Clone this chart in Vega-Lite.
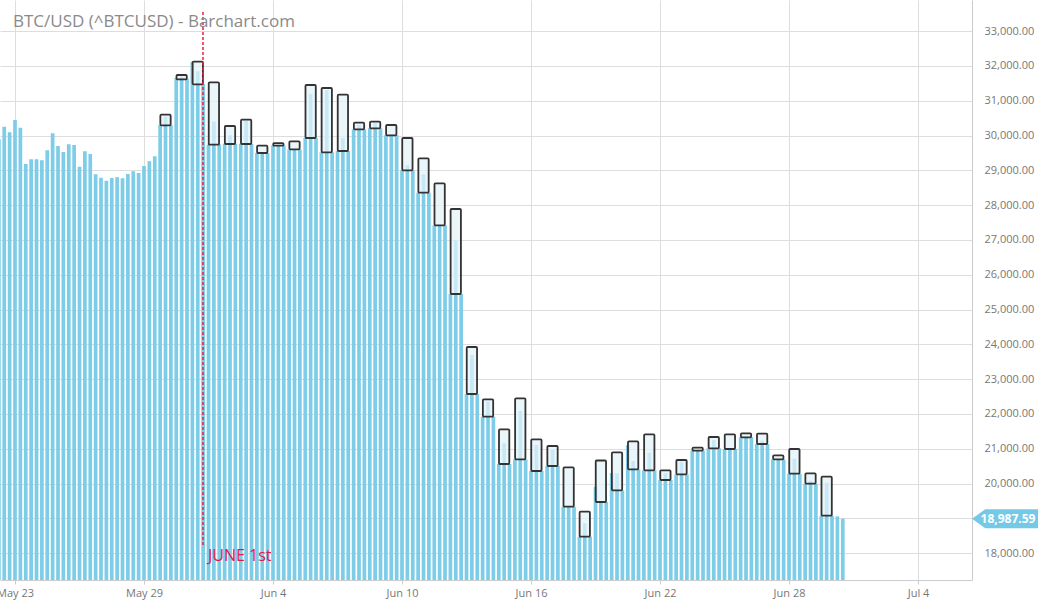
{
  "$schema": "https://vega.github.io/schema/vega-lite/v6.json",
  "width": 972,
  "height": 580,
  "autosize": {"type": "none"},
  "padding": {"left": 0, "top": 0, "right": 66, "bottom": 23},
  "background": "white",
  "config": {"view": {"stroke": null}, "font": "Open Sans"},
  "title": {
    "text": "BTC/USD (^BTCUSD) - Barchart.com",
    "anchor": "start",
    "frame": "group",
    "orient": "top",
    "offset": 0,
    "baseline": "alphabetic",
    "dx": 13,
    "dy": 44,
    "fontSize": 17,
    "fontWeight": "normal",
    "color": "#8a8a8a",
    "font": "Open Sans"
  },
  "datasets": {
    "bars": [
      {"t": "2022-05-22T06:00", "v": 29890}, {"t": "2022-05-22T12:00", "v": 30253}, {"t": "2022-05-22T18:00", "v": 30092},
      {"t": "2022-05-23T00:00", "v": 30445}, {"t": "2022-05-23T06:00", "v": 30225}, {"t": "2022-05-23T12:00", "v": 29181}, {"t": "2022-05-23T18:00", "v": 29316},
      {"t": "2022-05-24T00:00", "v": 29316}, {"t": "2022-05-24T06:00", "v": 29287}, {"t": "2022-05-24T12:00", "v": 29574}, {"t": "2022-05-24T18:00", "v": 30063},
      {"t": "2022-05-25T00:00", "v": 29698}, {"t": "2022-05-25T06:00", "v": 29526}, {"t": "2022-05-25T12:00", "v": 29747}, {"t": "2022-05-25T18:00", "v": 29727},
      {"t": "2022-05-26T00:00", "v": 29104}, {"t": "2022-05-26T06:00", "v": 29545}, {"t": "2022-05-26T12:00", "v": 29468}, {"t": "2022-05-26T18:00", "v": 28885},
      {"t": "2022-05-27T00:00", "v": 28787}, {"t": "2022-05-27T06:00", "v": 28701}, {"t": "2022-05-27T12:00", "v": 28779}, {"t": "2022-05-27T18:00", "v": 28799},
      {"t": "2022-05-28T00:00", "v": 28770}, {"t": "2022-05-28T06:00", "v": 28894}, {"t": "2022-05-28T12:00", "v": 28971}, {"t": "2022-05-28T18:00", "v": 28922},
      {"t": "2022-05-29T00:00", "v": 29124}, {"t": "2022-05-29T06:00", "v": 29259}, {"t": "2022-05-29T12:00", "v": 29402}, {"t": "2022-05-29T18:00", "v": 30300},
      {"t": "2022-05-30T00:00", "v": 30540}, {"t": "2022-05-30T06:00", "v": 30300}, {"t": "2022-05-30T12:00", "v": 31650}, {"t": "2022-05-30T18:00", "v": 31680},
      {"t": "2022-05-31T00:00", "v": 31630}, {"t": "2022-05-31T06:00", "v": 32120}, {"t": "2022-05-31T12:00", "v": 31850}, {"t": "2022-05-31T18:00", "v": 31480},
      {"t": "2022-06-01T00:00", "v": 29740}, {"t": "2022-06-01T06:00", "v": 30400}, {"t": "2022-06-01T12:00", "v": 29740}, {"t": "2022-06-01T18:00", "v": 29760},
      {"t": "2022-06-02T00:00", "v": 30010}, {"t": "2022-06-02T06:00", "v": 29760}, {"t": "2022-06-02T12:00", "v": 29760}, {"t": "2022-06-02T18:00", "v": 30420},
      {"t": "2022-06-03T00:00", "v": 29760}, {"t": "2022-06-03T06:00", "v": 29500}, {"t": "2022-06-03T12:00", "v": 29500}, {"t": "2022-06-03T18:00", "v": 29500},
      {"t": "2022-06-04T00:00", "v": 29710}, {"t": "2022-06-04T06:00", "v": 29710}, {"t": "2022-06-04T12:00", "v": 29710}, {"t": "2022-06-04T18:00", "v": 29600},
      {"t": "2022-06-05T00:00", "v": 29600}, {"t": "2022-06-05T06:00", "v": 29600}, {"t": "2022-06-05T12:00", "v": 29930}, {"t": "2022-06-05T18:00", "v": 31190},
      {"t": "2022-06-06T00:00", "v": 29930}, {"t": "2022-06-06T06:00", "v": 29520}, {"t": "2022-06-06T12:00", "v": 31300}, {"t": "2022-06-06T18:00", "v": 29520},
      {"t": "2022-06-07T00:00", "v": 29555}, {"t": "2022-06-07T06:00", "v": 29930}, {"t": "2022-06-07T12:00", "v": 29555}, {"t": "2022-06-07T18:00", "v": 30180},
      {"t": "2022-06-08T00:00", "v": 30300}, {"t": "2022-06-08T06:00", "v": 30180}, {"t": "2022-06-08T12:00", "v": 30210}, {"t": "2022-06-08T18:00", "v": 30350},
      {"t": "2022-06-09T00:00", "v": 30210}, {"t": "2022-06-09T06:00", "v": 30006}, {"t": "2022-06-09T12:00", "v": 30006}, {"t": "2022-06-09T18:00", "v": 30006},
      {"t": "2022-06-10T00:00", "v": 29000}, {"t": "2022-06-10T06:00", "v": 29150}, {"t": "2022-06-10T12:00", "v": 29000}, {"t": "2022-06-10T18:00", "v": 28356},
      {"t": "2022-06-11T00:00", "v": 28890}, {"t": "2022-06-11T06:00", "v": 28356}, {"t": "2022-06-11T12:00", "v": 27420}, {"t": "2022-06-11T18:00", "v": 27420},
      {"t": "2022-06-12T00:00", "v": 27420}, {"t": "2022-06-12T06:00", "v": 25445}, {"t": "2022-06-12T12:00", "v": 27000}, {"t": "2022-06-12T18:00", "v": 25445},
      {"t": "2022-06-13T00:00", "v": 22572}, {"t": "2022-06-13T06:00", "v": 23690}, {"t": "2022-06-13T12:00", "v": 22572}, {"t": "2022-06-13T18:00", "v": 21919},
      {"t": "2022-06-14T00:00", "v": 22350}, {"t": "2022-06-14T06:00", "v": 21919}, {"t": "2022-06-14T12:00", "v": 20560}, {"t": "2022-06-14T18:00", "v": 21155},
      {"t": "2022-06-15T00:00", "v": 20560}, {"t": "2022-06-15T06:00", "v": 20695}, {"t": "2022-06-15T12:00", "v": 22080}, {"t": "2022-06-15T18:00", "v": 20695},
      {"t": "2022-06-16T00:00", "v": 20359}, {"t": "2022-06-16T06:00", "v": 21106}, {"t": "2022-06-16T12:00", "v": 20359}, {"t": "2022-06-16T18:00", "v": 20503},
      {"t": "2022-06-17T00:00", "v": 20963}, {"t": "2022-06-17T06:00", "v": 20503}, {"t": "2022-06-17T12:00", "v": 19333}, {"t": "2022-06-17T18:00", "v": 19333},
      {"t": "2022-06-18T00:00", "v": 19333}, {"t": "2022-06-18T06:00", "v": 18471}, {"t": "2022-06-18T12:00", "v": 18856}, {"t": "2022-06-18T18:00", "v": 18471},
      {"t": "2022-06-19T00:00", "v": 19908}, {"t": "2022-06-19T06:00", "v": 19468}, {"t": "2022-06-19T12:00", "v": 19468}, {"t": "2022-06-19T18:00", "v": 20300},
      {"t": "2022-06-20T00:00", "v": 20293}, {"t": "2022-06-20T06:00", "v": 19804}, {"t": "2022-06-20T12:00", "v": 21100}, {"t": "2022-06-20T18:00", "v": 20646},
      {"t": "2022-06-21T00:00", "v": 20408}, {"t": "2022-06-21T06:00", "v": 20379}, {"t": "2022-06-21T12:00", "v": 20885}, {"t": "2022-06-21T18:00", "v": 20379},
      {"t": "2022-06-22T00:00", "v": 20100}, {"t": "2022-06-22T06:00", "v": 20293}, {"t": "2022-06-22T12:00", "v": 20100}, {"t": "2022-06-22T18:00", "v": 20264},
      {"t": "2022-06-23T00:00", "v": 20626}, {"t": "2022-06-23T06:00", "v": 20264}, {"t": "2022-06-23T12:00", "v": 20943}, {"t": "2022-06-23T18:00", "v": 20943},
      {"t": "2022-06-24T00:00", "v": 20943}, {"t": "2022-06-24T06:00", "v": 21011}, {"t": "2022-06-24T12:00", "v": 21250}, {"t": "2022-06-24T18:00", "v": 21011},
      {"t": "2022-06-25T00:00", "v": 20991}, {"t": "2022-06-25T06:00", "v": 20991}, {"t": "2022-06-25T12:00", "v": 20991}, {"t": "2022-06-25T18:00", "v": 21328},
      {"t": "2022-06-26T00:00", "v": 21328}, {"t": "2022-06-26T06:00", "v": 21328}, {"t": "2022-06-26T12:00", "v": 21135}, {"t": "2022-06-26T18:00", "v": 21230},
      {"t": "2022-06-27T00:00", "v": 21135}, {"t": "2022-06-27T06:00", "v": 20695}, {"t": "2022-06-27T12:00", "v": 20695}, {"t": "2022-06-27T18:00", "v": 20695},
      {"t": "2022-06-28T00:00", "v": 20282}, {"t": "2022-06-28T06:00", "v": 20710}, {"t": "2022-06-28T12:00", "v": 20282}, {"t": "2022-06-28T18:00", "v": 19994},
      {"t": "2022-06-29T00:00", "v": 20080}, {"t": "2022-06-29T06:00", "v": 19994}, {"t": "2022-06-29T12:00", "v": 19075}, {"t": "2022-06-29T18:00", "v": 20023},
      {"t": "2022-06-30T00:00", "v": 19075}, {"t": "2022-06-30T06:00", "v": 19057}, {"t": "2022-06-30T12:00", "v": 18987.59}
    ],
    "candles": [
      {"t": "2022-05-30T00:00", "hi": 30598, "lo": 30293}, {"t": "2022-05-30T18:00", "hi": 31739, "lo": 31615},
      {"t": "2022-05-31T12:00", "hi": 32121, "lo": 31471}, {"t": "2022-06-01T06:00", "hi": 31529, "lo": 29736},
      {"t": "2022-06-02T00:00", "hi": 30273, "lo": 29756}, {"t": "2022-06-02T18:00", "hi": 30454, "lo": 29756},
      {"t": "2022-06-03T12:00", "hi": 29707, "lo": 29497}, {"t": "2022-06-04T06:00", "hi": 29784, "lo": 29707},
      {"t": "2022-06-05T00:00", "hi": 29833, "lo": 29603}, {"t": "2022-06-05T18:00", "hi": 31451, "lo": 29928},
      {"t": "2022-06-06T12:00", "hi": 31365, "lo": 29517}, {"t": "2022-06-07T06:00", "hi": 31172, "lo": 29555},
      {"t": "2022-06-08T00:00", "hi": 30368, "lo": 30178}, {"t": "2022-06-08T18:00", "hi": 30397, "lo": 30207},
      {"t": "2022-06-09T12:00", "hi": 30302, "lo": 30006}, {"t": "2022-06-10T06:00", "hi": 29928, "lo": 29000},
      {"t": "2022-06-11T00:00", "hi": 29345, "lo": 28356}, {"t": "2022-06-11T18:00", "hi": 28626, "lo": 27419},
      {"t": "2022-06-12T12:00", "hi": 27888, "lo": 25445}, {"t": "2022-06-13T06:00", "hi": 23922, "lo": 22572},
      {"t": "2022-06-14T00:00", "hi": 22419, "lo": 21919}, {"t": "2022-06-14T18:00", "hi": 21557, "lo": 20560},
      {"t": "2022-06-15T12:00", "hi": 22448, "lo": 20695}, {"t": "2022-06-16T06:00", "hi": 21270, "lo": 20359},
      {"t": "2022-06-17T00:00", "hi": 21077, "lo": 20503}, {"t": "2022-06-17T18:00", "hi": 20466, "lo": 19333},
      {"t": "2022-06-18T12:00", "hi": 19189, "lo": 18471}, {"t": "2022-06-19T06:00", "hi": 20661, "lo": 19468},
      {"t": "2022-06-20T00:00", "hi": 20896, "lo": 19804}, {"t": "2022-06-20T18:00", "hi": 21212, "lo": 20408},
      {"t": "2022-06-21T12:00", "hi": 21414, "lo": 20379}, {"t": "2022-06-22T06:00", "hi": 20379, "lo": 20100},
      {"t": "2022-06-23T00:00", "hi": 20675, "lo": 20264}, {"t": "2022-06-23T18:00", "hi": 21029, "lo": 20943},
      {"t": "2022-06-24T12:00", "hi": 21336, "lo": 21011}, {"t": "2022-06-25T06:00", "hi": 21414, "lo": 20991},
      {"t": "2022-06-26T00:00", "hi": 21443, "lo": 21328}, {"t": "2022-06-26T18:00", "hi": 21431, "lo": 21135},
      {"t": "2022-06-27T12:00", "hi": 20810, "lo": 20695}, {"t": "2022-06-28T06:00", "hi": 20991, "lo": 20282},
      {"t": "2022-06-29T00:00", "hi": 20293, "lo": 19994}, {"t": "2022-06-29T18:00", "hi": 20195, "lo": 19075}
    ],
    "one": [{}]
  },
  "layer": [
    {
      "data": {"name": "bars"},
      "mark": {"type": "bar", "width": 3.7, "color": "#7dcde8", "clip": true},
      "encoding": {
        "x": {
          "field": "t", "type": "temporal",
          "scale": {"domain": [{"year": 2022, "month": 5, "date": 22, "hours": 7, "minutes": 15}, {"year": 2022, "month": 7, "date": 6, "hours": 12, "minutes": 15}], "padding": 0, "nice": false},
          "axis": {
            "title": null,
            "values": [
              {"year": 2022, "month": 5, "date": 23}, {"year": 2022, "month": 5, "date": 29},
              {"year": 2022, "month": 6, "date": 4}, {"year": 2022, "month": 6, "date": 10},
              {"year": 2022, "month": 6, "date": 16}, {"year": 2022, "month": 6, "date": 22},
              {"year": 2022, "month": 6, "date": 28}, {"year": 2022, "month": 7, "date": 4}
            ],
            "tickCount": 30,
            "format": "%b %-d",
            "labelFlush": false,
            "labelOverlap": false,
            "grid": true,
            "gridColor": "#dddddd",
            "gridWidth": 1,
            "domainColor": "#cccccc",
            "tickColor": "#cccccc",
            "tickSize": 4,
            "labelColor": "#777777",
            "labelFontSize": 11,
            "labelPadding": 3,
            "labelFont": "Open Sans"
          }
        },
        "y": {
          "field": "v", "type": "quantitative",
          "scale": {"domain": [17227, 33894], "zero": false, "nice": false, "padding": 0},
          "axis": {
            "title": null,
            "orient": "right",
            "values": [18000, 19000, 20000, 21000, 22000, 23000, 24000, 25000, 26000, 27000, 28000, 29000, 30000, 31000, 32000, 33000],
            "tickCount": 30,
            "labelExpr": "datum.value == 19000 ? '' : format(datum.value, ',.2f')",
            "labelFlush": false,
            "labelOverlap": false,
            "grid": true,
            "gridColor": "#dddddd",
            "gridWidth": 1,
            "domainColor": "#cccccc",
            "ticks": false,
            "labelPadding": 12,
            "labelColor": "#777777",
            "labelFontSize": 11,
            "labelFont": "Open Sans"
          }
        },
        "y2": {"datum": 17227}
      }
    },
    {
      "data": {"name": "candles"},
      "mark": {"type": "bar", "width": 10.3, "fill": "#e3f2fa", "fillOpacity": 0.72, "stroke": "#333333", "strokeWidth": 1.8, "cornerRadius": 1},
      "encoding": {
        "x": {"field": "t", "type": "temporal"},
        "y": {"field": "hi", "type": "quantitative"},
        "y2": {"field": "lo"}
      }
    },
    {
      "data": {"name": "one"},
      "mark": {"type": "rule", "color": "#e8213f", "strokeDash": [3, 2], "strokeWidth": 1.5},
      "encoding": {
        "x": {"datum": {"year": 2022, "month": 5, "date": 31, "hours": 17, "minutes": 50}, "type": "temporal"},
        "y": {"datum": 33549},
        "y2": {"datum": 18233}
      }
    },
    {
      "data": {"name": "one"},
      "mark": {"type": "text", "text": "JUNE 1st", "align": "left", "baseline": "middle", "dx": 5, "fontSize": 16, "color": "#e31b3f", "font": "Open Sans"},
      "encoding": {
        "x": {"datum": {"year": 2022, "month": 5, "date": 31, "hours": 17, "minutes": 50}, "type": "temporal"},
        "y": {"datum": 17920}
      }
    },
    {
      "data": {"name": "one"},
      "mark": {"type": "point", "shape": "M -1 0 L -0.6 -0.29 L 1 -0.29 L 1 0.29 L -0.6 0.29 Z", "filled": true, "color": "#74cae6", "opacity": 1, "size": 4356, "strokeWidth": 0, "clip": false},
      "encoding": {
        "x": {"datum": {"year": 2022, "month": 7, "date": 8, "hours": 1, "minutes": 8}, "type": "temporal"},
        "y": {"datum": 18987.59}
      }
    },
    {
      "data": {"name": "one"},
      "mark": {"type": "text", "align": "center", "baseline": "middle", "dx": 3, "fontSize": 12, "fontWeight": "bold", "color": "#ffffff", "font": "Open Sans", "clip": false},
      "encoding": {
        "x": {"datum": {"year": 2022, "month": 7, "date": 8, "hours": 1, "minutes": 8}, "type": "temporal"},
        "y": {"datum": 18987.59},
        "text": {"datum": 18987.59, "format": ",.2f"}
      }
    }
  ]
}
